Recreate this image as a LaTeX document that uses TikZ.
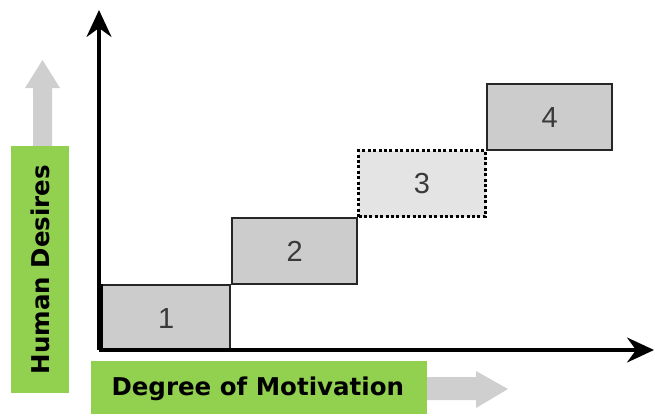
\documentclass[tikz,border=0pt]{standalone}
\usepackage{fontspec}
\setmainfont{DejaVu Sans}
\newfontfamily\numfont{Liberation Sans}
\usetikzlibrary{arrows.meta}
\definecolor{lgreen}{HTML}{92D050}
\definecolor{boxfill}{HTML}{CCCCCC}
\definecolor{boxfilllight}{HTML}{E4E4E4}
\definecolor{ghost}{HTML}{CFCFCF}
\definecolor{numcol}{HTML}{3A3A3A}
\begin{document}
\begin{tikzpicture}[x=1pt,y=-1pt,
  stepbox/.style={draw=black!85,line width=2.3pt,fill=boxfill},
  numlabel/.style={font=\numfont\fontsize{29}{31}\selectfont,text=numcol},
  axisline/.style={line width=3.3pt,-{Stealth[length=27pt,width=25pt,inset=9pt]}},
  greenlabel/.style={fill=lgreen,inner sep=0pt},
  labeltext/.style={font=\bfseries\fontsize{24.5}{27}\selectfont}]
\useasboundingbox (0,0) rectangle (655,415);
% gray hint arrows
\fill[ghost] (33,146) -- (33,88) -- (25,88) -- (42.5,60) -- (60,88) -- (52,88) -- (52,146) -- cycle;
\fill[ghost] (427,377) -- (476,377) -- (476,371) -- (508,389) -- (476,408) -- (476,400) -- (427,400) -- cycle;
% boxes
\node[stepbox,minimum width=128pt,minimum height=66pt,anchor=north west] (b1) at (101,284) {};
\node[numlabel] at (b1.center) {1};
\node[stepbox,minimum width=125pt,minimum height=66pt,anchor=north west] (b2) at (231,217) {};
\node[numlabel] at (b2.center) {2};
\node[stepbox,fill=boxfilllight,draw=black,line width=3pt,dash pattern=on 3pt off 2.4pt,minimum width=127pt,minimum height=66pt,anchor=north west] (b3) at (357,149) {};
\node[numlabel] at (b3.center) {3};
\node[stepbox,minimum width=125pt,minimum height=66pt,anchor=north west] (b4) at (486,83) {};
\node[numlabel] at (b4.center) {4};
% axes
\coordinate (o) at (99,350);
\coordinate (ytip) at (99,10);
\coordinate (xtip) at (654,350);
\draw[axisline] (o) -- (ytip);
\draw[axisline] (o) -- (xtip);
\draw[line width=3.8pt] (101,284) -- (101,350) -- (229,350);
% labels
\node[greenlabel,minimum width=58pt,minimum height=247pt,anchor=north west] (yl) at (11,146) {};
\node[labeltext,rotate=90] at (yl.center) {Human Desires};
\node[greenlabel,minimum width=336pt,minimum height=53pt,anchor=north west] (xl) at (91,361) {};
\node[labeltext,anchor=west] at (108,389) {Degree of Motivation};
\end{tikzpicture}
\end{document}
